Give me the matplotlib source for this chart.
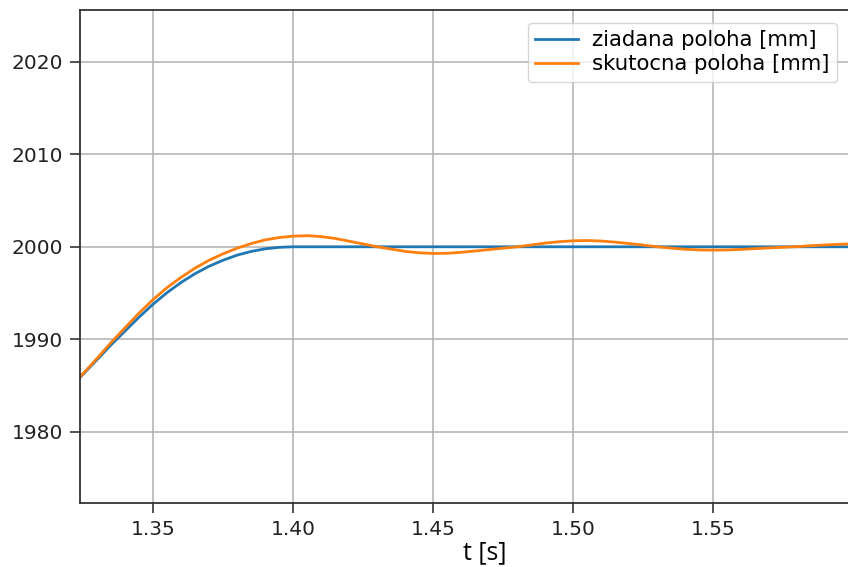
import numpy as np
import matplotlib.pyplot as plt

# ziadana poloha (desired position)
t_ziad = [1.324, 1.330, 1.335, 1.340, 1.345, 1.350, 1.355, 1.360, 1.365, 1.370,
          1.375, 1.380, 1.385, 1.390, 1.395, 1.400, 1.450, 1.500, 1.550, 1.613]
y_ziad = [1985.9, 1987.8, 1989.4, 1990.9, 1992.4, 1993.8, 1995.05, 1996.15, 1997.1, 1997.9,
          1998.55, 1999.1, 1999.5, 1999.78, 1999.94, 2000.0, 2000.0, 2000.0, 2000.0, 2000.0]

# skutocna poloha (actual position)
t_skut = [1.324, 1.330, 1.335, 1.340, 1.345, 1.350, 1.355, 1.360, 1.365, 1.370,
          1.375, 1.380, 1.385, 1.390, 1.395, 1.400, 1.405, 1.410, 1.415, 1.420,
          1.425, 1.430, 1.435, 1.440, 1.445, 1.450, 1.455, 1.460, 1.465, 1.470,
          1.475, 1.480, 1.485, 1.490, 1.495, 1.500, 1.505, 1.510, 1.515, 1.520,
          1.525, 1.530, 1.535, 1.540, 1.545, 1.550, 1.555, 1.560, 1.565, 1.570,
          1.575, 1.580, 1.585, 1.590, 1.595, 1.600, 1.605, 1.613]
y_skut = [1985.95, 1987.95, 1989.65, 1991.25, 1992.85, 1994.3, 1995.6, 1996.7, 1997.7, 1998.55,
          1999.25, 1999.85, 2000.35, 2000.75, 2001.0, 2001.15, 2001.2, 2001.1, 2000.9, 2000.6,
          2000.3, 2000.0, 1999.75, 1999.5, 1999.35, 1999.28, 1999.3, 1999.4, 1999.55, 1999.7,
          1999.85, 2000.0, 2000.2, 2000.4, 2000.55, 2000.65, 2000.68, 2000.62, 2000.5, 2000.35,
          2000.18, 2000.0, 1999.85, 1999.73, 1999.66, 1999.64, 1999.66, 1999.72, 1999.8, 1999.88,
          1999.95, 2000.02, 2000.12, 2000.2, 2000.27, 2000.32, 2000.36, 2000.4]

fig = plt.figure(figsize=(8.48, 5.67), dpi=100)
# axes runs past the right edge like the cropped original
ax = fig.add_axes([80/848, 1 - 503/567, 810/848, 493/567])

ax.plot(t_ziad, y_ziad, color='#1f77b4', lw=2.0, label='ziadana poloha [mm]')
ax.plot(t_skut, y_skut, color='#ff7f0e', lw=2.0, label='skutocna poloha [mm]')

ax.set_xlim(1.3239, 1.613)
ax.set_ylim(1972.3, 2025.6)
ax.set_xticks([1.35, 1.40, 1.45, 1.50, 1.55])
ax.set_yticks([1980, 1990, 2000, 2010, 2020])
ax.tick_params(labelsize=14.5, length=7, width=1.1, pad=5, colors='#222222')
ax.grid(True, color='#b0b0b0', lw=1.1)
for s in ax.spines.values():
    s.set_linewidth(1.3)
    s.set_color('#333333')

ax.set_xlabel('t [s]', family=['Open Sans', 'DejaVu Sans'], fontsize=18, labelpad=1)

ax.legend(loc='upper right', bbox_to_anchor=(848/848, 1 - 12/567),
          bbox_transform=fig.transFigure, fontsize=15.3, handlelength=2.0,
          borderpad=0.35, labelspacing=0.2, handletextpad=0.7)

fig.savefig('out.png', dpi=100)
